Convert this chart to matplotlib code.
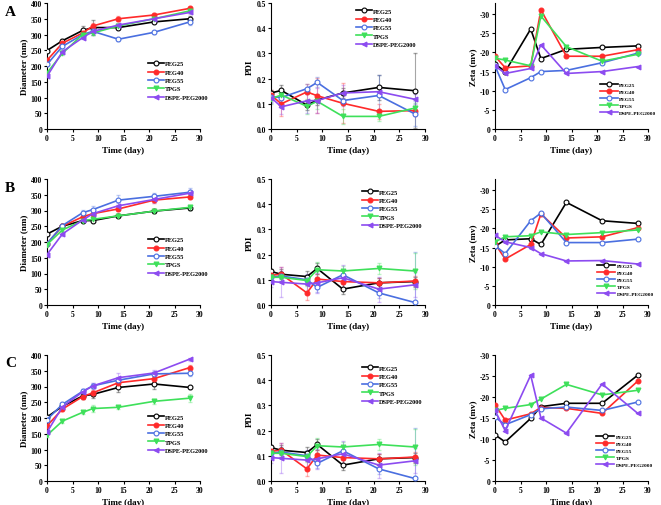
import matplotlib
matplotlib.use("Agg")
import matplotlib.pyplot as plt

plt.rcParams['font.family'] = ['Liberation Serif', 'DejaVu Serif']
plt.rcParams['font.weight'] = 'bold'

# ---- data ----
names = ['PEG25', 'PEG40', 'PEG55', 'TPGS', 'DSPE-PEG2000']
colors = ['black', '#ff2a2a', '#4a6fe0', '#3ee05a', '#8c4bf0']
markers = ['o', 'o', 'o', 'v', '<']
filled = [False, True, False, True, True]

t_dia = [0, 3, 7, 9, 14, 21, 28]
t_pz = [0, 2, 7, 9, 14, 21, 28]

dia_A = [[249, 280, 313, 322, 322, 340, 350],
         [218, 272, 305, 327, 350, 362, 383],
         [205, 262, 300, 310, 285, 307, 340],
         [178, 240, 300, 305, 327, 350, 375],
         [167, 245, 290, 310, 330, 350, 370]]
dia_A_err = [[5, 5, 15, 25, 6, 5, 8], [5, 5, 8, 8, 8, 5, 5], [5, 8, 10, 10, 5, 5, 10],
             [5, 5, 8, 8, 5, 5, 5], [5, 5, 5, 8, 8, 5, 5]]

pdi_A = [[0.143, 0.153, 0.095, 0.115, 0.143, 0.165, 0.152],
         [0.135, 0.100, 0.147, 0.132, 0.102, 0.070, 0.073],
         [0.128, 0.125, 0.160, 0.185, 0.113, 0.133, 0.060],
         [0.120, 0.135, 0.090, 0.110, 0.050, 0.050, 0.083],
         [0.125, 0.088, 0.112, 0.113, 0.143, 0.148, 0.118]]
pdi_A_err = [[0.01, 0.02, 0.02, 0.02, 0.02, 0.05, 0.15], [0.02, 0.05, 0.03, 0.07, 0.08, 0.03, 0.02],
             [0.02, 0.02, 0.02, 0.02, 0.02, 0.08, 0.05], [0.02, 0.02, 0.03, 0.03, 0.03, 0.02, 0.02],
             [0.02, 0.03, 0.05, 0.05, 0.03, 0.02, 0.02]]

zeta_A = [[-17.0, -15.0, -26.1, -18.4, -20.8, -21.3, -21.7],
          [-19.0, -16.0, -16.5, -31.1, -19.0, -19.0, -20.7],
          [-16.5, -10.3, -13.4, -15.0, -15.3, -17.3, -19.8],
          [-18.5, -18.0, -16.5, -29.5, -21.5, -17.7, -19.5],
          [-16.5, -14.5, -15.8, -22.0, -14.5, -15.0, -16.3]]

dia_B = [[225, 250, 268, 268, 283, 298, 308],
         [195, 250, 280, 290, 305, 333, 343],
         [195, 252, 293, 303, 333, 345, 358],
         [192, 238, 268, 272, 283, 298, 310],
         [160, 225, 270, 290, 315, 335, 355]]
dia_B_err = [[5, 5, 5, 5, 5, 5, 5], [5, 5, 8, 8, 8, 10, 8], [5, 5, 8, 10, 15, 10, 12],
             [5, 5, 5, 5, 5, 5, 8], [5, 5, 8, 8, 10, 10, 10]]

pdi_B = [[0.133, 0.122, 0.113, 0.145, 0.063, 0.088, 0.093],
         [0.118, 0.122, 0.048, 0.103, 0.093, 0.088, 0.095],
         [0.110, 0.115, 0.100, 0.070, 0.120, 0.048, 0.010],
         [0.110, 0.110, 0.097, 0.140, 0.135, 0.145, 0.135],
         [0.093, 0.090, 0.083, 0.088, 0.108, 0.063, 0.080]]
pdi_B_err = [[0.01, 0.02, 0.02, 0.02, 0.02, 0.02, 0.02], [0.02, 0.03, 0.03, 0.02, 0.03, 0.02, 0.02],
             [0.02, 0.02, 0.02, 0.02, 0.02, 0.02, 0.20], [0.02, 0.02, 0.02, 0.03, 0.02, 0.02, 0.07],
             [0.02, 0.06, 0.04, 0.04, 0.05, 0.05, 0.05]]

zeta_B = [[-15.3, -17.0, -17.3, -15.8, -26.8, -22.0, -21.3],
          [-16.0, -12.0, -15.8, -23.8, -17.5, -17.8, -20.2],
          [-15.5, -13.4, -22.0, -24.0, -16.3, -16.3, -17.2],
          [-16.5, -17.8, -18.1, -19.1, -18.4, -18.9, -19.6],
          [-18.2, -16.5, -15.0, -13.4, -11.5, -11.6, -10.7]]

dia_C = [[203, 237, 270, 275, 297, 308, 297],
         [175, 228, 268, 280, 312, 325, 360],
         [195, 243, 285, 302, 320, 340, 342],
         [145, 190, 218, 230, 234, 253, 263],
         [155, 235, 283, 302, 328, 343, 387]]
dia_C_err = [[5, 5, 10, 10, 15, 15, 5], [5, 5, 8, 10, 10, 10, 8], [5, 5, 8, 8, 10, 8, 8],
             [5, 5, 5, 10, 5, 8, 12], [5, 5, 10, 10, 15, 10, 5]]

pdi_C = pdi_B
pdi_C_err = pdi_B_err

zeta_C = [[-11.0, -9.3, -14.9, -17.7, -18.5, -18.5, -25.2],
          [-18.2, -14.5, -16.0, -17.5, -17.3, -16.1, -23.8],
          [-15.2, -13.4, -15.8, -17.2, -17.6, -16.8, -18.8],
          [-16.8, -17.3, -18.2, -19.5, -23.0, -20.5, -21.6],
          [-16.8, -12.0, -25.2, -15.0, -11.4, -23.1, -16.1]]

W, H = 661, 506
fig = plt.figure(figsize=(W / 100, H / 100), dpi=100)


def add_ax(x0, x1, ytop, ybot):
    return fig.add_axes([x0 / W, 1 - ybot / H, (x1 - x0) / W, (ybot - ytop) / H])


def style(ax):
    for s in ['top', 'right']:
        ax.spines[s].set_visible(False)
    ax.tick_params(labelsize=5.5, length=2, width=0.8, pad=1.5)
    for lab in ax.get_xticklabels() + ax.get_yticklabels():
        lab.set_fontweight('bold')
    ax.set_xlim(0, 30)
    ax.set_xticks(range(0, 31, 5))
    ax.set_xlabel('Time (day)', fontsize=6.5, fontweight='bold', labelpad=3)


def draw(ax, t, data, err=None):
    for i in range(5):
        e = err[i] if err is not None else None
        if e is not None:
            ax.errorbar(t, data[i], yerr=e, fmt='none', ecolor=colors[i], alpha=0.35,
                        elinewidth=0.8, capsize=1.5, zorder=1)
        ax.plot(t, data[i], color=colors[i], lw=1.2, marker=markers[i], ms=3.5,
                mfc=colors[i] if filled[i] else 'white', mec=colors[i], mew=0.8,
                label=names[i], zorder=3)


def legend(ax, loc, size=4.6, hl=2.5, sp=0.45):
    ax.legend(loc='upper left', bbox_to_anchor=loc, frameon=False,
              prop={'size': size, 'weight': 'bold', 'family': 'Liberation Serif'},
              handlelength=hl, handletextpad=0.2, labelspacing=sp, borderaxespad=0,
              borderpad=0)


cols = [(47, 200), (271, 425), (495, 648)]
rows = [(4, 130), (180, 306), (356, 482)]
dia_sets = [(dia_A, dia_A_err), (dia_B, dia_B_err), (dia_C, dia_C_err)]
pdi_sets = [(pdi_A, pdi_A_err), (pdi_B, pdi_B_err), (pdi_C, pdi_C_err)]
zeta_sets = [zeta_A, zeta_B, zeta_C]
zeta_tops = [-32.9, -32.9, -30]
leg_dia = [(0.66, 0.54), (0.66, 0.54), (0.66, 0.53)]
leg_pdi = [(0.55, 0.96), (0.59, 0.92), (0.59, 0.92)]
leg_zeta = [(0.685, 0.375), (0.667, 0.335), (0.66, 0.375)]
letters = ['A', 'B', 'C']

for r in range(3):
    ytop, ybot = rows[r]
    # diameter
    ax = add_ax(cols[0][0], cols[0][1], ytop, ybot)
    draw(ax, t_dia, *dia_sets[r])
    ax.set_ylim(0, 400)
    ax.set_yticks(range(0, 401, 50))
    ax.set_ylabel('Diameter (nm)', fontsize=6.5, fontweight='bold', labelpad=2)
    style(ax)
    legend(ax, leg_dia[r])
    fig.text(5 / W, 1 - (ytop + 8) / H, letters[r], fontsize=11, fontweight='bold', va='center')

    # PDI
    ax = add_ax(cols[1][0], cols[1][1], ytop, ybot)
    draw(ax, t_pz, *pdi_sets[r])
    ax.set_ylim(0, 0.5)
    ax.set_yticks([0.0, 0.1, 0.2, 0.3, 0.4, 0.5])
    ax.set_yticklabels(['0.0', '0.1', '0.2', '0.3', '0.4', '0.5'])
    ax.set_ylabel('PDI', fontsize=6.5, fontweight='bold', labelpad=2)
    style(ax)
    legend(ax, leg_pdi[r])

    # zeta
    ax = add_ax(cols[2][0], cols[2][1], ytop, ybot)
    draw(ax, t_pz, zeta_sets[r])
    ax.set_ylim(0, zeta_tops[r])
    ax.set_yticks(range(0, -31, -5))
    ax.set_yticklabels(['0', '-5', '-10', '-15', '-20', '-25', '-30'])
    ax.set_ylabel('Zeta (mv)', fontsize=6.5, fontweight='bold', labelpad=2)
    style(ax)
    legend(ax, leg_zeta[r], size=3.9, hl=3.4, sp=0.42)

fig.savefig('out.png', dpi=100)
